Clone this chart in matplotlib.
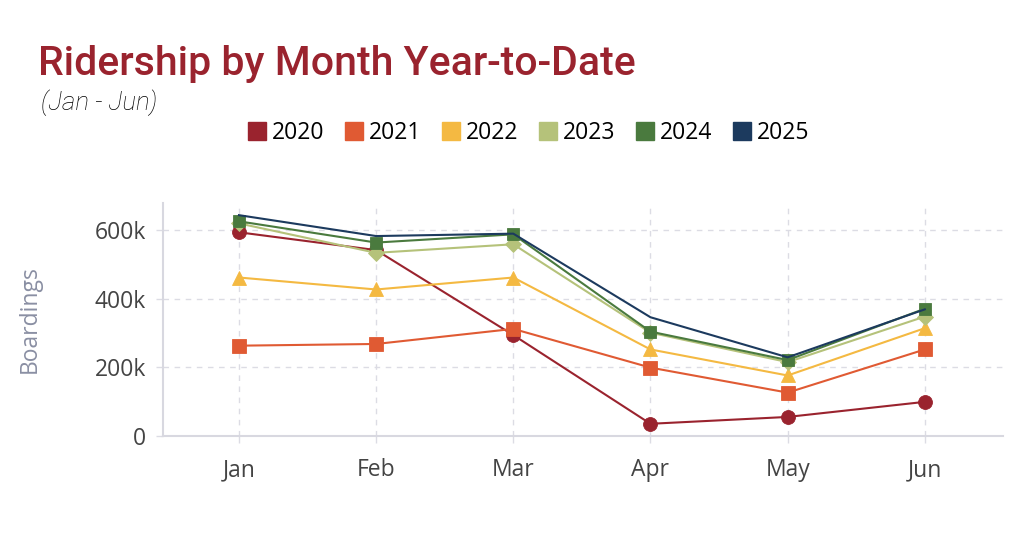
import matplotlib.pyplot as plt
from matplotlib.ticker import FuncFormatter
from matplotlib.lines import Line2D

months = ["Jan", "Feb", "Mar", "Apr", "May", "Jun"]
years = ["2020", "2021", "2022", "2023", "2024", "2025"]

r2020 = [594000, 542000, 294000, 35000, 55000, 99000]
r2021 = [263000, 268000, 312000, 199000, 126000, 252000]
r2022 = [462000, 427000, 462000, 252000, 176000, 314000]
r2023 = [620000, 534000, 559000, 301000, 215000, 348000]
r2024 = [626000, 564000, 588000, 304000, 221000, 371000]
r2025 = [644000, 583000, 590000, 346000, 229000, 369000]

colors = ["#9a232e", "#e05a33", "#f4b942", "#b5c27a", "#4a7a3e", "#1c3a5e"]
markers = ["o", "s", "^", "D", "s", None]
msizes = [10, 9.5, 10.5, 8, 9, 0]

plt.rcParams['font.family'] = ['Open Sans', 'DejaVu Sans']

fig = plt.figure(figsize=(10.24, 5.38), dpi=100)
ax = fig.add_axes([0.159, 0.19, 0.8205, 0.433])

x = list(range(len(months)))
series = [r2020, r2021, r2022, r2023, r2024, r2025]
for vals, c, m, ms in zip(series, colors, markers, msizes):
    ax.plot(x, vals, color=c, lw=1.5, marker=m, markersize=ms,
            markeredgecolor=c, markeredgewidth=0.6, zorder=3)

ax.set_xlim(-0.555, 5.57)
ax.set_ylim(0, 680000)
ax.set_xticks(x)
ax.set_xticklabels(months)
ax.set_yticks([0, 200000, 400000, 600000])
ax.yaxis.set_major_formatter(FuncFormatter(lambda v, p: "0" if v == 0 else "%dk" % (v / 1000)))
ax.tick_params(axis="both", labelsize=16.5, colors="#444444", length=5, width=1)
ax.tick_params(axis="both", color="#dcdce4")
ax.tick_params(axis="x", pad=11)
ax.tick_params(axis="y", pad=7)
ax.grid(True, color="#dcdce4", ls=(0, (4, 4)), lw=1)
ax.set_axisbelow(True)
for s in ["top", "right"]:
    ax.spines[s].set_visible(False)
for s in ["left", "bottom"]:
    ax.spines[s].set_color("#d8d8e0")
    ax.spines[s].set_linewidth(1.5)
ax.set_ylabel("Boardings", fontsize=16.5, color="#8a8fa3", labelpad=38)

fig.text(0.037, 0.86, "Ridership by Month Year-to-Date", fontsize=29.5,
         color="#9a232e", fontweight="medium", family=["Roboto", "DejaVu Sans"])
fig.text(0.040, 0.795, "(Jan - Jun)", fontsize=18.5, style="italic", color="#000000",
         fontweight="light", family=["Roboto", "DejaVu Sans"])

handles = [Line2D([], [], ls="none", marker="s", markersize=13, color=c) for c in colors]
fig.legend(handles, years, loc="center", bbox_to_anchor=(0.515, 0.752), ncol=6,
           frameon=False, fontsize=16.5, handletextpad=0.15, columnspacing=0.8,
           handlelength=1.0)

fig.savefig("out.png", dpi=100)
